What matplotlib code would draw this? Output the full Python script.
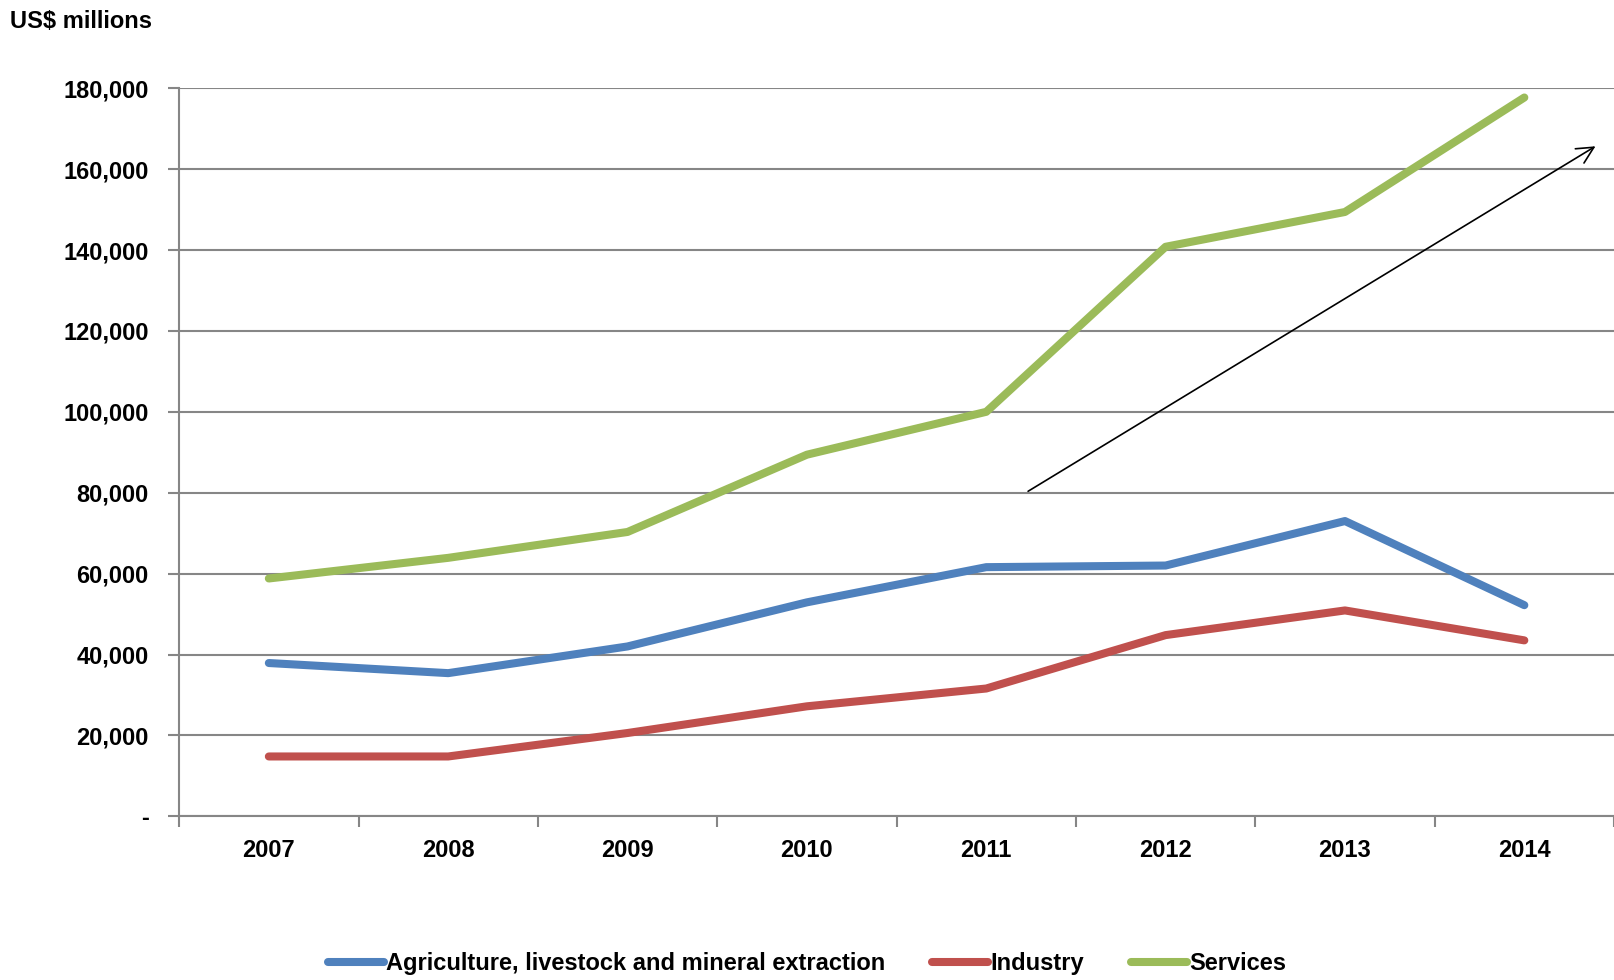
import matplotlib.pyplot as plt
from matplotlib.ticker import FixedLocator, FuncFormatter

years = ['2007', '2008', '2009', '2010', '2011', '2012', '2013', '2014']
agriculture = [37900, 35400, 42000, 52900, 61600, 62000, 73000, 52200]
industry = [14800, 14800, 20600, 27200, 31600, 44800, 50900, 43500]
services = [58800, 63900, 70300, 89400, 100000, 140800, 149400, 177700]
series_names = ['Agriculture, livestock and mineral extraction', 'Industry', 'Services']
series_colors = ['#4F81BD', '#C0504D', '#9BBB59']

# trend arrow (category index, value)
arrow_start = (4.22, 80000)
arrow_end = (7.41, 166000)

plt.rcParams['font.family'] = ['Liberation Sans Narrow', 'Liberation Sans', 'DejaVu Sans']
plt.rcParams['font.weight'] = 'bold'

fig = plt.figure(figsize=(16.14, 9.8), dpi=100)
ax = fig.add_axes([0.111, 0.167, 0.889, 0.743])

x = range(len(years))
for vals, name, col in zip([agriculture, industry, services], series_names, series_colors):
    ax.plot(x, vals, color=col, lw=5.8, label=name, solid_capstyle='round', solid_joinstyle='round')

ax.annotate('', xy=arrow_end, xytext=arrow_start,
            arrowprops=dict(arrowstyle='->', color='black', lw=1.2, mutation_scale=30))

ax.set_xlim(-0.5, len(years) - 0.5)
ax.set_ylim(0, 180000)
ax.xaxis.set_major_locator(FixedLocator([i - 0.5 for i in range(len(years) + 1)]))
ax.xaxis.set_minor_locator(FixedLocator(list(x)))
ax.set_xticklabels([])
ax.set_xticklabels(years, minor=True)
ax.tick_params(axis='x', which='major', length=8, width=1.5, color='#868686', direction='out')
ax.tick_params(axis='x', which='minor', length=0, pad=16, labelsize=17)

ax.set_yticks(range(0, 180001, 20000))
ax.yaxis.set_major_formatter(FuncFormatter(lambda v, p: '-' if v == 0 else f'{int(v):,}'))
ax.tick_params(axis='y', length=8, width=1.5, color='#868686', labelsize=17, pad=14)
ax.grid(axis='y', color='#868686', lw=1.5)
ax.set_axisbelow(True)

for s in ['top', 'right']:
    ax.spines[s].set_visible(False)
for s in ['left', 'bottom']:
    ax.spines[s].set_color('#868686')
    ax.spines[s].set_linewidth(1.5)

fig.text(0.006, 0.978, 'US$ millions', fontsize=17, fontweight='bold', va='center', ha='left')

fig.legend(loc='center', bbox_to_anchor=(0.5, 0.017), ncol=3, frameon=False,
           fontsize=17, handlelength=2.35, handletextpad=0.1, columnspacing=2.0)

fig.savefig('out.png', dpi=100)
